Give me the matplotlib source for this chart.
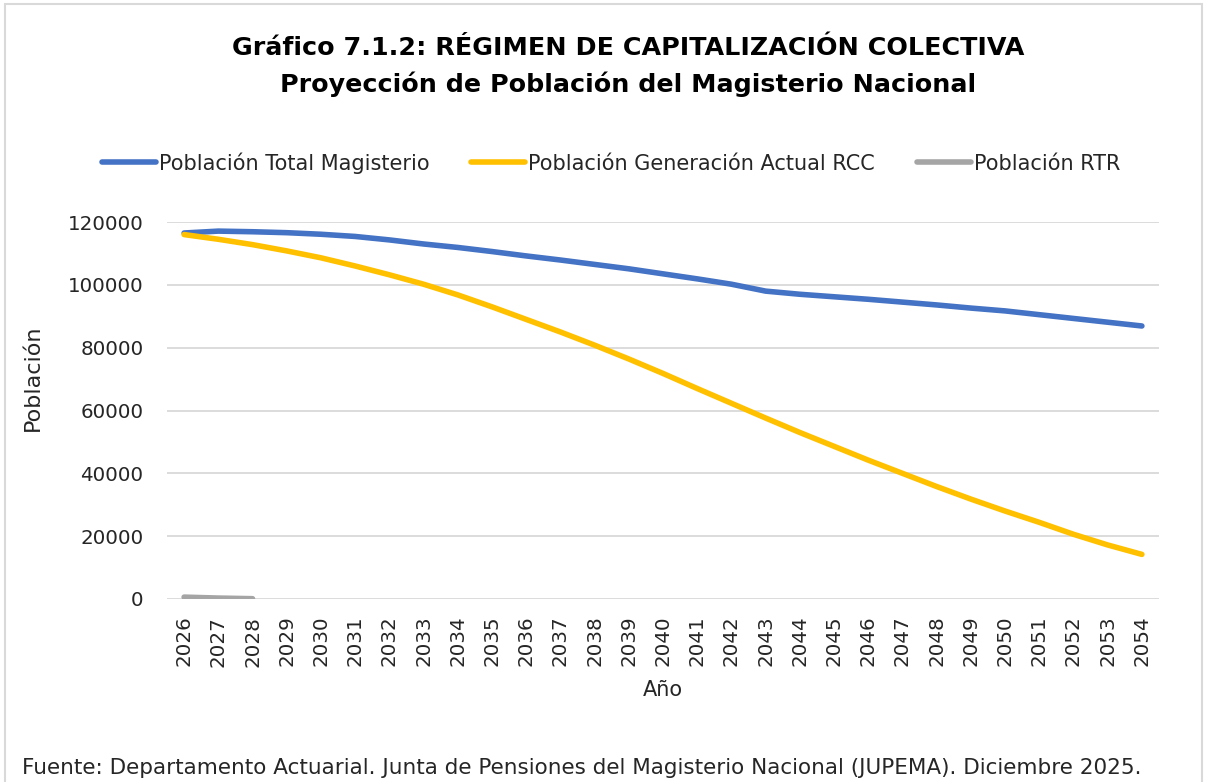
import matplotlib
matplotlib.use("Agg")
import matplotlib.pyplot as plt
from matplotlib.patches import Rectangle
from matplotlib.lines import Line2D

years = list(range(2026, 2055))
total_magisterio = [116500, 117100, 116900, 116600, 116100, 115400, 114300, 113000, 111900,
                    110600, 109200, 107900, 106500, 105100, 103500, 101900, 100200, 98000,
                    97000, 96200, 95400, 94500, 93600, 92600, 91700, 90500, 89300, 88100, 86900]
generacion_rcc = [116000, 114500, 112800, 110800, 108600, 106000, 103200, 100200, 96800,
                  93000, 89000, 85000, 80800, 76400, 71800, 67000, 62300, 57600, 53000,
                  48600, 44200, 40000, 35800, 31800, 28000, 24400, 20600, 17200, 14200]
rtr_years = [2026, 2027, 2028]
rtr = [600, 300, 100]
yticks = [0, 20000, 40000, 60000, 80000, 100000, 120000]

series_names = ["Población Total Magisterio", "Población Generación Actual RCC", "Población RTR"]
colors = ["#4472C4", "#FFC000", "#A5A5A5"]

plt.rcParams['font.family'] = ['DejaVu Sans']
txt = "#262626"

fig = plt.figure(figsize=(12.06, 7.82), dpi=100)
W, H = 1206, 782

# outer border
fig.patches.append(Rectangle((5 / W, -0.05), (1202 - 5) / W, (H - 4) / H + 0.05,
                             transform=fig.transFigure, fill=False,
                             edgecolor="#D9D9D9", linewidth=1.5))

ax = fig.add_axes([167 / W, (H - 599) / H, (1159 - 167) / W, (599 - 222) / H])
lw = 4.0
ax.plot(years, total_magisterio, color=colors[0], lw=lw, solid_capstyle="round", zorder=3)
ax.plot(years, generacion_rcc, color=colors[1], lw=lw, solid_capstyle="round", zorder=3)
ax.plot(rtr_years, rtr, color=colors[2], lw=lw, solid_capstyle="round", zorder=3)

ax.set_xlim(2025.5, 2054.5)
ax.set_ylim(0, 120000)
ax.set_yticks(yticks)
ax.set_yticklabels([str(v) for v in yticks])
ax.set_xticks(years)
ax.set_xticklabels([str(y) for y in years], rotation=90)
ax.tick_params(axis="both", length=0, labelsize=14.3, colors=txt)
ax.tick_params(axis="y", pad=17)
ax.tick_params(axis="x", pad=12)
ax.grid(axis="y", color="#D9D9D9", lw=1.3)
ax.set_axisbelow(True)
for s in ax.spines.values():
    s.set_visible(False)

ax.set_xlabel("Año", fontsize=15, color=txt, labelpad=10)
fig.text(33 / W, 1 - 378 / H, "Población", rotation=90, ha="center", va="center",
         fontsize=16, color=txt)

fig.text(628 / W, 1 - 48 / H, "Gráfico 7.1.2: RÉGIMEN DE CAPITALIZACIÓN COLECTIVA",
         ha="center", va="center", fontsize=18.3, fontweight="bold", color="#000000")
fig.text(628 / W, 1 - 84 / H, "Proyección de Población del Magisterio Nacional",
         ha="center", va="center", fontsize=18.3, fontweight="bold", color="#000000")

handles = [Line2D([0], [0], color=c, lw=lw, solid_capstyle="round") for c in colors]
fig.legend(handles, series_names, loc="center", bbox_to_anchor=(611 / W, 1 - 163 / H),
           ncol=3, frameon=False, fontsize=15, handlelength=2.6, handletextpad=0.15,
           columnspacing=2.0, labelcolor=txt)

fig.text(22 / W, 1 - 768 / H,
         "Fuente: Departamento Actuarial. Junta de Pensiones del Magisterio Nacional (JUPEMA). Diciembre 2025.",
         ha="left", va="center", fontsize=15.5, color=txt)

fig.savefig("out.png", dpi=100)
